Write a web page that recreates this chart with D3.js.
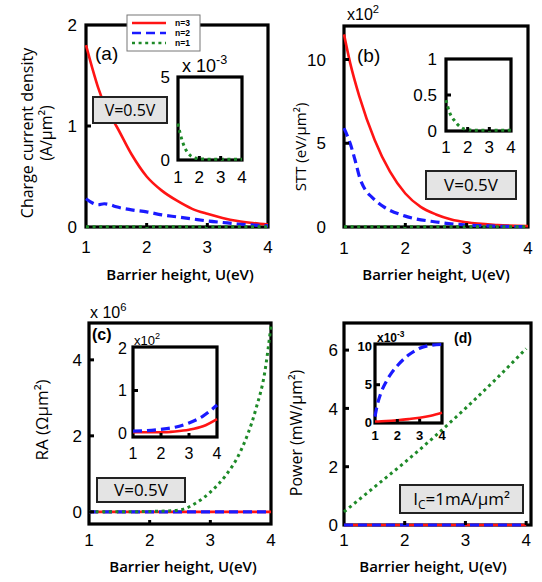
<!DOCTYPE html>
<html>
<head>
<meta charset="utf-8">
<script src="https://cdn.jsdelivr.net/npm/d3@7"></script>
<style>
  body { margin: 0; background: #fff; }
  svg { display: block; font-family: "Liberation Sans", Arial, sans-serif; }
</style>
</head>
<body>
<svg id="fig" width="542" height="582"></svg>
<script>
// ---- data ----
// (a) charge current density, A/um^2
var a_U3 = [1, 1.1, 1.2, 1.3, 1.4, 1.5, 1.75, 2, 2.25, 2.5, 2.75, 3, 3.25, 3.5, 3.75, 4];
var a_n3 = [1.8, 1.58, 1.38, 1.22, 1.1, 1.0, 0.72, 0.5, 0.36, 0.26, 0.18, 0.13, 0.09, 0.06, 0.04, 0.025];
var a_n2 = [0.28, 0.24, 0.22, 0.23, 0.22, 0.2, 0.17, 0.15, 0.12, 0.1, 0.08, 0.06, 0.045, 0.03, 0.02, 0.012];
var a_n1 = [0.002, 0.002, 0.002, 0.002, 0.002, 0.002, 0.002, 0.002, 0.002, 0.002, 0.002, 0.002, 0.002, 0.002, 0.002, 0.002];
// (a) inset, x10^-3
var ai_U = [1, 1.1, 1.2, 1.3, 1.45, 1.6, 1.8, 2, 2.5, 3, 3.5, 4];
var ai_n1 = [2.2, 1.6, 1.15, 0.8, 0.45, 0.25, 0.12, 0.07, 0.05, 0.05, 0.05, 0.05];

// (b) STT, x10^2 eV/um^2
var b_U3 = [1, 1.1, 1.25, 1.5, 1.75, 2, 2.25, 2.5, 2.75, 3, 3.5, 4];
var b_n3 = [11.5, 9.8, 7.8, 5.2, 3.3, 2.0, 1.2, 0.75, 0.45, 0.28, 0.12, 0.05];
var b_U2 = [1, 1.1, 1.18, 1.26, 1.35, 1.45, 1.65, 2, 2.5, 3, 3.5, 4];
var b_n2 = [5.9, 5.0, 4.0, 2.9, 2.2, 1.8, 1.2, 0.65, 0.3, 0.12, 0.05, 0.02];
var b_U1 = [1, 2, 3, 4];
var b_n1 = [0.01, 0.01, 0.01, 0.01];
// (b) inset
var bi_U = [1, 1.15, 1.4, 1.65, 1.95, 2.5, 3, 3.5, 4];
var bi_n1 = [0.43, 0.27, 0.14, 0.06, 0.02, 0.01, 0.01, 0.01, 0.01];

// (c) RA, x10^6 Ohm um^2
var c_U1 = [1, 1.5, 2, 2.25, 2.5, 2.75, 3, 3.25, 3.5, 3.75, 3.9, 4];
var c_n1 = [0, 0, 0.01, 0.02, 0.05, 0.22, 0.52, 0.95, 1.6, 2.7, 3.7, 4.9];
var c_U = [1, 2, 3, 4];
var c_n3 = [0, 0, 0, 0];
var c_n2 = [0, 0, 0, 0];
// (c) inset, x10^2
var ci_U = [1, 1.5, 2, 2.5, 3, 3.5, 4];
var ci_n2 = [0.05, 0.06, 0.09, 0.14, 0.24, 0.4, 0.66];
var ci_n3 = [0.02, 0.02, 0.02, 0.04, 0.08, 0.16, 0.33];

// (d) power, mW/um^2
var d_U = [1, 1.5, 2, 2.5, 3, 3.5, 4];
var d_n1 = [0.45, 1.3, 2.15, 3.05, 4.0, 5.0, 6.05];
var d_n3 = [0, 0, 0, 0, 0, 0, 0];
var d_n2 = [0, 0, 0, 0, 0, 0, 0];
// (d) inset, x10^-3
var di_U2 = [1, 1.1, 1.25, 1.5, 1.75, 2, 2.5, 3, 3.5, 4];
var di_n2 = [0.8, 2.3, 3.8, 5.4, 6.6, 7.5, 8.9, 9.8, 10.2, 10.3];
var di_U3 = [1, 1.5, 2, 2.5, 3, 3.5, 4];
var di_n3 = [0.15, 0.22, 0.33, 0.47, 0.65, 0.92, 1.3];

var xTicks = [1, 2, 3, 4];
var legendNames = ['n=3', 'n=2', 'n=1'];

// ---- styles ----
var styles = {
  n3: {color: '#ff1414', width: 2.6, dash: null},
  n2: {color: '#1a1aff', width: 3.2, dash: '9,5'},
  n1: {color: '#1e8a28', width: 3, dash: '3,3.6'}
};

var svg = d3.select('#fig');
var clipId = 0;

function zip(xs, ys){ return xs.map(function(x, i){ return [x, ys[i]]; }); }

// draws one framed axes box (main or inset)
function panel(o){
  var x = d3.scaleLinear().domain(o.xd).range([o.l, o.r]);
  var y = d3.scaleLinear().domain(o.yd).range([o.b, o.t]);
  var g = svg.append('g');
  g.append('rect').attr('x', o.l).attr('y', o.t)
    .attr('width', o.r - o.l).attr('height', o.b - o.t).attr('fill', '#fff');
  g.append('rect').attr('x', o.l).attr('y', o.t)
    .attr('width', o.r - o.l).attr('height', o.b - o.t)
    .attr('fill', 'none').attr('stroke', '#000').attr('stroke-width', o.fw || 3.2);

  clipId++;
  svg.append('clipPath').attr('id', 'c' + clipId).append('rect')
    .attr('x', o.l - 2).attr('y', o.t - 2)
    .attr('width', o.r - o.l + 4).attr('height', o.b - o.t + 4);

  var line = d3.line().x(function(d){ return x(d[0]); }).y(function(d){ return y(d[1]); })
    .curve(d3.curveMonotoneX);
  o.series.forEach(function(s){
    var st = styles[s.s];
    g.append('path').attr('d', line(zip(s.x, s.y)))
      .attr('clip-path', 'url(#c' + clipId + ')')
      .attr('fill', 'none').attr('stroke', st.color)
      .attr('stroke-width', st.width)
      .attr('stroke-dasharray', st.dash);
  });

  // inward ticks
  (o.yt || []).forEach(function(v){
    if(Math.abs(y(v) - o.t) < 4 || Math.abs(y(v) - o.b) < 4) return;
    g.append('line').attr('x1', o.l).attr('x2', o.l + 5).attr('y1', y(v)).attr('y2', y(v))
      .attr('stroke', '#000').attr('stroke-width', 3);
  });
  xTicks.forEach(function(v){
    if(v == o.xd[0] || v == o.xd[1]) return;
    g.append('line').attr('x1', x(v)).attr('x2', x(v)).attr('y1', o.b).attr('y2', o.b - 4)
      .attr('stroke', '#000').attr('stroke-width', 3);
  });

  // tick labels
  g.selectAll('text.yl').data(o.yt || []).enter().append('text')
    .attr('x', o.l - o.ypad).attr('y', function(d){ return y(d); })
    .attr('dy', '0.36em').attr('text-anchor', 'end')
    .attr('font-size', o.fs).attr('font-weight', o.fwt || 'normal')
    .text(function(d){ return d; });
  g.selectAll('text.xl').data(xTicks).enter().append('text')
    .attr('x', function(d){ return x(d); }).attr('y', o.b + o.xpad)
    .attr('dy', '0.36em').attr('text-anchor', 'middle')
    .attr('font-size', o.fs).attr('font-weight', o.fwt || 'normal')
    .text(function(d){ return d; });
  return g;
}

// text with a superscript piece
function supText(x, y, base, sup, fs, weight){
  var t = svg.append('text').attr('x', x).attr('y', y)
    .attr('font-size', fs).attr('font-weight', weight || 'normal');
  t.append('tspan').text(base);
  t.append('tspan').attr('dy', -fs * 0.45).attr('font-size', fs * 0.7).text(sup);
  return t;
}

function infoBox(x0, y0, x1, y1, txt, fs){
  svg.append('rect').attr('x', x0).attr('y', y0).attr('width', x1 - x0).attr('height', y1 - y0)
    .attr('fill', '#e4e4e4').attr('stroke', '#222').attr('stroke-width', 2);
  return svg.append('text').attr('x', (x0 + x1) / 2).attr('y', (y0 + y1) / 2)
    .attr('dy', '0.36em').attr('text-anchor', 'middle')
    .attr('font-family', 'Open Sans, sans-serif').attr('font-size', fs).text(txt);
}

function ylab(x, y, lines, fs){
  var t = svg.append('text').attr('transform', 'translate(' + x + ',' + y + ') rotate(-90)')
    .attr('text-anchor', 'middle').attr('font-family', 'Open Sans, sans-serif').attr('font-size', fs);
  lines.forEach(function(s, i){
    t.append('tspan').attr('x', 0).attr('dy', i == 0 ? 0 : fs * 1.2).text(s);
  });
}

function xlab(cx, y){
  svg.append('text').attr('x', cx).attr('y', y).attr('dy', '0.36em')
    .attr('text-anchor', 'middle').attr('font-family', 'Open Sans, sans-serif')
    .attr('font-weight', 600).attr('font-size', 15)
    .text('Barrier height, U(eV)');
}

// ---------- (a) ----------
panel({l: 86, r: 268, t: 25, b: 227, xd: [1, 4], yd: [0, 2], yt: [0, 1, 2],
  ypad: 9, xpad: 20, fs: 17,
  series: [{x: a_U3, y: a_n3, s: 'n3'}, {x: a_U3, y: a_n2, s: 'n2'}, {x: a_U3, y: a_n1, s: 'n1'}]});
ylab(33, 133, ['Charge current density', '(A/\u03bcm\u00b2)'], 16);
xlab(180, 275);
svg.append('text').attr('x', 95).attr('y', 60).attr('font-size', 19).text('(a)');
infoBox(93, 97, 167, 123, 'V=0.5V', 16);
panel({l: 178, r: 242, t: 77, b: 160, xd: [1, 4], yd: [0, 5], yt: [0, 5],
  ypad: 8, xpad: 17, fs: 17,
  series: [{x: ai_U, y: ai_n1, s: 'n1'}]});
supText(182, 72, 'x 10', '-3', 18);

// legend
var lg = svg.append('g');
lg.append('rect').attr('x', 127).attr('y', 15).attr('width', 73).attr('height', 36)
  .attr('fill', '#fff').attr('stroke', '#777').attr('stroke-width', 1);
['n3', 'n2', 'n1'].forEach(function(k, i){
  var st = styles[k], yy = 23 + i * 10;
  lg.append('line').attr('x1', 132).attr('x2', 166).attr('y1', yy).attr('y2', yy)
    .attr('stroke', st.color).attr('stroke-width', 2.6).attr('stroke-dasharray', st.dash);
  lg.append('text').attr('x', 175).attr('y', yy).attr('dy', '0.36em')
    .attr('font-size', 8.5).attr('font-weight', 'bold').text(legendNames[i]);
});

// ---------- (b) ----------
panel({l: 344, r: 528, t: 26, b: 227, xd: [1, 4], yd: [0, 12], yt: [0, 5, 10],
  ypad: 18, xpad: 21, fs: 17,
  series: [{x: b_U3, y: b_n3, s: 'n3'}, {x: b_U2, y: b_n2, s: 'n2'}, {x: b_U1, y: b_n1, s: 'n1'}]});
ylab(306, 147, ['STT (eV/\u03bcm\u00b2)'], 15);
xlab(436, 275);
supText(347, 20, 'x10', '2', 16);
svg.append('text').attr('x', 357).attr('y', 62).attr('font-size', 19).text('(b)');
panel({l: 446, r: 511, t: 59, b: 131, xd: [1, 4], yd: [0, 1], yt: [0, 0.5, 1],
  ypad: 9, xpad: 16, fs: 17,
  series: [{x: bi_U, y: bi_n1, s: 'n1'}]});
infoBox(426, 171, 516, 199, 'V=0.5V', 17);

// ---------- (c) ----------
panel({l: 89, r: 271, t: 323, b: 524, xd: [1, 4], yd: [-0.32, 4.97], yt: [0, 2, 4],
  ypad: 7, xpad: 16, fs: 17,
  series: [{x: c_U, y: c_n3, s: 'n3'}, {x: c_U, y: c_n2, s: 'n2'}, {x: c_U1, y: c_n1, s: 'n1'}]});
ylab(48, 420, ['RA (\u03a9\u03bcm\u00b2)'], 17);
xlab(183, 567);
supText(90, 318, 'x 10', '6', 16);
svg.append('text').attr('x', 92).attr('y', 340).attr('font-size', 16).attr('font-weight', 'bold').text('(c)');
panel({l: 133, r: 217, t: 347, b: 437, xd: [1, 4], yd: [-0.09, 2.02], yt: [0, 1, 2],
  ypad: 6, xpad: 16, fs: 16,
  series: [{x: ci_U, y: ci_n3, s: 'n3'}, {x: ci_U, y: ci_n2, s: 'n2'}]});
supText(134, 345, 'x10', '2', 13);
infoBox(97, 478, 185, 502, 'V=0.5V', 17);

// ---------- (d) ----------
panel({l: 344, r: 531, t: 323, b: 525, xd: [1, 4.08], yd: [0, 6.93], yt: [0, 2, 4, 6],
  ypad: 6, xpad: 15, fs: 17,
  series: [{x: d_U, y: d_n3, s: 'n3'}, {x: d_U, y: d_n2, s: 'n2'}, {x: d_U, y: d_n1, s: 'n1'}]});
ylab(302, 433, ['Power (mW/\u03bcm\u00b2)'], 16);
xlab(433, 567);
svg.append('text').attr('x', 454).attr('y', 343).attr('font-size', 14).attr('font-weight', 'bold').text('(d)');
panel({l: 375, r: 442, t: 344, b: 423, xd: [1, 4], yd: [-0.04, 10.36], yt: [0, 5, 10],
  ypad: 3, xpad: 12, fs: 13, fwt: 'bold',
  series: [{x: di_U3, y: di_n3, s: 'n3'}, {x: di_U2, y: di_n2, s: 'n2'}]});
supText(377, 342, 'x10', '-3', 12, 'bold');
var ic = infoBox(400, 485, 523, 513, '', 17);
ic.append('tspan').text('I');
ic.append('tspan').attr('font-size', 12).attr('dy', 4).text('C');
ic.append('tspan').attr('dy', -4).text('=1mA/\u03bcm\u00b2');
</script>
</body>
</html>
